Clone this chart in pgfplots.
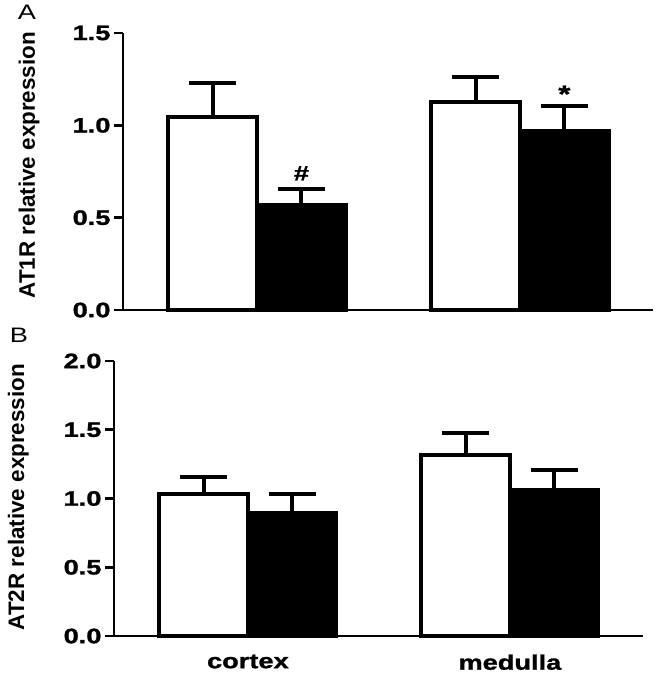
\documentclass[border=0pt]{standalone}
\usepackage{pgfplots}
\pgfplotsset{compat=1.18}
\usepackage{fontspec}
\setmainfont{Liberation Sans}
\newfontfamily\tickfont[FakeStretch=1.3, BoldFeatures={FakeBold=1.3}]{Liberation Sans}

\pgfplotsset{
 panel/.style={
  scale only axis, clip=false,
  axis x line=bottom, axis y line=left,
  axis line style={-, line width=2.6bp, black},
  ybar, bar width=0.338,
  xtick={0,1},
  xtick style={draw=none},
  ytick style={line width=2.6bp, black},
  major tick length=9bp, tick align=outside,
  ymin=0,
  y tick label style={font=\tickfont\bfseries\fontsize{21}{21}\selectfont,
    /pgf/number format/fixed, /pgf/number format/fixed zerofill,
    /pgf/number format/precision=1, /pgf/number format/assume math mode=true},
  ylabel style={font=\bfseries\fontsize{22.5}{22.5}\selectfont, anchor=center},
  x tick label style={font=\tickfont\bfseries\fontsize{21}{21}\selectfont, yshift=-6bp},
 },
 errs/.style={error bars/.cd, y dir=plus, y explicit,
   error bar style={line width=4bp, black},
   error mark options={rotate=90, mark size=23.5bp, line width=4bp, black}},
 wbar/.style={draw=black, fill=white, line width=4bp, bar shift=-0.169, errs},
 bbar/.style={draw=black, fill=black, line width=4bp, bar shift=0.169, errs},
}

\begin{document}
\begin{tikzpicture}
\useasboundingbox (0,0) rectangle (662bp,-673bp);

% Panel A
\begin{axis}[panel,
  at={(123bp,-310bp)}, anchor=south west,
  width=530bp, height=277bp,
  xmin=-0.5095, xmax=1.506,
  ymax=1.5, ytick={0,0.5,1.0,1.5},
  xticklabels={},
  ylabel={AT1R relative expression},
  ylabel style={at={(axis description cs:-0.177,0.523)}},
]
\addplot[wbar] coordinates {(0,1.045) +- (0,0.185) (1,1.126) +- (0,0.134)};
\addplot[bbar] coordinates {(0,0.568) +- (0,0.087) (1,0.970) +- (0,0.135)};
\node[font=\tickfont\bfseries\fontsize{21}{21}\selectfont] at (axis cs:0.169,0.74) {\#};
\node[font=\tickfont\bfseries\fontsize{24}{24}\selectfont] at (axis cs:1.169,1.17) {*};
\end{axis}

% Panel B
\begin{axis}[panel,
  at={(114bp,-636bp)}, anchor=south west,
  width=529bp, height=275bp,
  xmin=-0.511, xmax=1.508,
  ymax=2.0, ytick={0,0.5,1.0,1.5,2.0},
  xticklabels={cortex,medulla},
  ylabel={AT2R relative expression},
  ylabel style={at={(axis description cs:-0.181,0.505)}},
]
\addplot[wbar] coordinates {(0,1.03) +- (0,0.13) (1,1.32) +- (0,0.16)};
\addplot[bbar] coordinates {(0,0.895) +- (0,0.135) (1,1.06) +- (0,0.15)};
\end{axis}

\node[font=\tickfont\fontsize{21}{21}\selectfont] at (27bp,-12bp) {A};
\node[font=\tickfont\fontsize{21}{21}\selectfont] at (19bp,-335bp) {B};
\end{tikzpicture}
\end{document}
